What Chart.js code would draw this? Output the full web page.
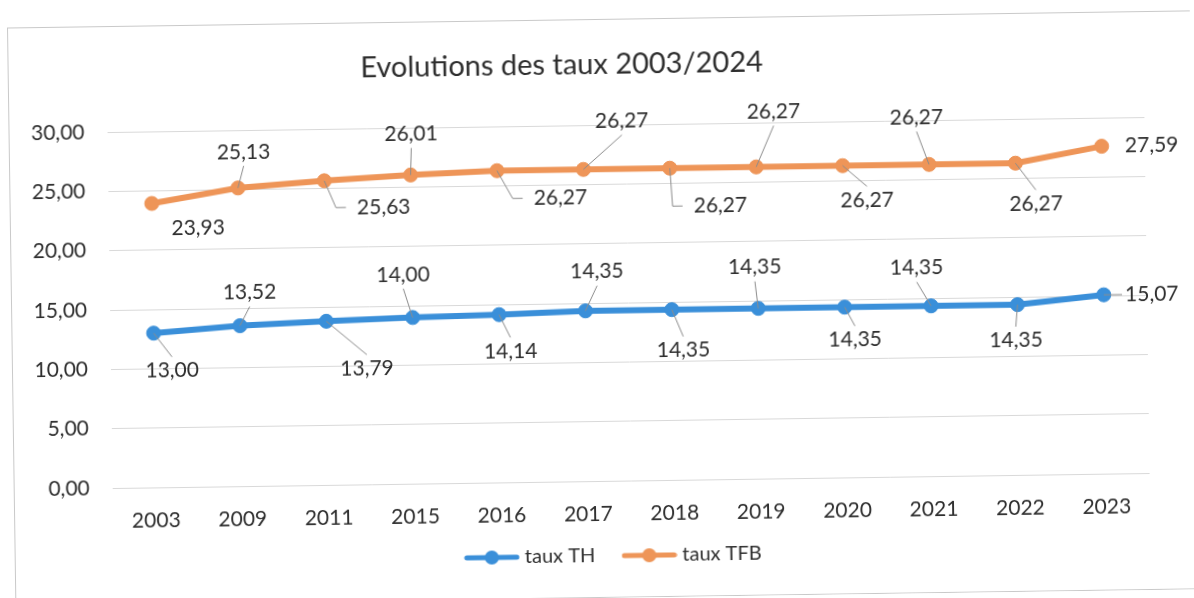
<!DOCTYPE html>
<html>
<head>
<meta charset="utf-8">
<script src="https://cdn.jsdelivr.net/npm/chart.js@4.4.1/dist/chart.umd.min.js"></script>
<style>
    html, body { margin: 0; padding: 0; background: #fff; overflow: hidden; }
    #chart { display: block; transform: rotate(-0.83deg); transform-origin: 50% 50%; }
</style>
</head>
<body>
<canvas id="chart" width="1194" height="598"></canvas>
<script>
// data
const years = ['2003', '2009', '2011', '2015', '2016', '2017', '2018', '2019', '2020', '2021', '2022', '2023'];
const tauxTH = [13.00, 13.52, 13.79, 14.00, 14.14, 14.35, 14.35, 14.35, 14.35, 14.35, 14.35, 15.07];
const tauxTFB = [23.93, 25.13, 25.63, 26.01, 26.27, 26.27, 26.27, 26.27, 26.27, 26.27, 26.27, 27.59];
const yMin = 0, yMax = 30, yStep = 5;
const chartTitle = 'Evolutions des taux 2003/2024';

const BLUE = '#3a8fd9';
const ORANGE = '#ee9558';
const TEXT = '#2e2e2e';
const FONT = 'Lato';

const fmt = v => v.toFixed(2).replace('.', ',');

// label placement [dx, dy, leader line] relative to each point
const thLabelPos = [[18, 38, 1], [10, -33, 1], [40, 48, 1], [-9, -43, 1], [11, 37, 1], [12, -39, 1],
    [11, 41, 1], [-3, -41, 1], [10, 33, 1], [-14, -38, 1], [-2, 36, 1], [48, 0, 1]];
const tfbLabelPos = [[46, 25, 0], [6, -36, 1], [59, 27, 1], [1, -41, 1], [63, 28, 1], [39, -48, 1],
    [50, 38, 1], [18, -55, 1], [24, 35, 1], [-12, -47, 1], [20, 41, 1], [50, 0, 0]];

// legend marker: line with a dot, like Excel
function legendMarker(color) {
    const c = document.createElement('canvas');
    c.width = 56; c.height = 16;
    const g = c.getContext('2d');
    g.strokeStyle = color; g.lineWidth = 5; g.lineCap = 'round';
    g.beginPath(); g.moveTo(3, 8); g.lineTo(53, 8); g.stroke();
    g.fillStyle = color;
    g.beginPath(); g.arc(28, 8, 7, 0, Math.PI * 2); g.fill();
    return c;
}

const frame = {
    id: 'frame',
    afterLayout(chart) {
        // nudge the legend to where Excel put it
        const lg = chart.legend;
        lg.left += 23; lg.right += 23;
        lg.top -= 14; lg.bottom -= 14;
    },
    beforeDraw(chart) {
        const ctx = chart.ctx;
        ctx.save();
        ctx.fillStyle = '#fff';
        ctx.fillRect(0, 0, chart.width, chart.height);
        ctx.strokeStyle = '#c9c9c9';
        ctx.lineWidth = 1;
        ctx.strokeRect(11.5, 19.5, 1200, 578);
        ctx.fillStyle = TEXT;
        ctx.font = '29px ' + FONT;
        ctx.textAlign = 'center';
        ctx.textBaseline = 'middle';
        ctx.fillText(chartTitle, 565, 65);
        ctx.restore();
    }
};

const pointLabels = {
    id: 'pointLabels',
    afterDatasetsDraw(chart, args, opts) {
        const ctx = chart.ctx;
        ctx.save();
        ctx.font = '21px ' + FONT;
        ctx.textAlign = 'center';
        ctx.textBaseline = 'middle';
        chart.data.datasets.forEach((ds, i) => {
            const meta = chart.getDatasetMeta(i);
            meta.data.forEach((pt, j) => {
                const [dx, dy, lead] = opts.positions[i][j];
                const text = fmt(ds.data[j]);
                const cx = pt.x + dx, cy = pt.y + dy;
                const left = cx - ctx.measureText(text).width / 2;
                if (lead) {
                    ctx.strokeStyle = '#8c8c8c';
                    ctx.lineWidth = 1;
                    ctx.beginPath();
                    ctx.moveTo(pt.x, pt.y);
                    if (Math.abs(dy) < 11) {
                        ctx.lineTo(left - 3, cy);
                    } else if (left - 11 > pt.x + 10) {
                        ctx.lineTo(Math.max(pt.x, left - 21), cy);
                        ctx.lineTo(left - 11, cy);
                    } else {
                        ctx.lineTo(cx, dy > 0 ? cy - 14 : cy + 14);
                    }
                    ctx.stroke();
                }
                ctx.fillStyle = TEXT;
                ctx.fillText(text, cx, cy);
            });
        });
        ctx.restore();
    }
};

new Chart(document.getElementById('chart'), {
    type: 'line',
    data: {
        labels: years,
        datasets: [{
            label: 'taux TH',
            data: tauxTH,
            borderColor: BLUE,
            backgroundColor: BLUE,
            borderWidth: 6,
            pointRadius: 7,
            pointBorderWidth: 1,
            pointStyle: 'circle',
            tension: 0
        }, {
            label: 'taux TFB',
            data: tauxTFB,
            borderColor: ORANGE,
            backgroundColor: ORANGE,
            borderWidth: 6,
            pointRadius: 7,
            pointBorderWidth: 1,
            pointStyle: 'circle',
            tension: 0
        }]
    },
    options: {
        responsive: false,
        animation: false,
        layout: { padding: { top: 125, left: 30, right: 47, bottom: 8 } },
        scales: {
            x: {
                offset: true,
                grid: { display: false, drawTicks: false },
                border: { display: false },
                ticks: { color: TEXT, font: { family: FONT, size: 21 }, padding: 21, maxRotation: 0 },
                afterFit(s) { s.height = 48; }
            },
            y: {
                min: yMin,
                max: yMax,
                grid: { color: '#d9d9d9', lineWidth: 1, drawTicks: false },
                border: { display: false },
                ticks: {
                    stepSize: yStep,
                    color: TEXT,
                    font: { family: FONT, size: 21 },
                    padding: 23,
                    callback: v => fmt(v)
                },
                afterFit(s) { s.width = 80; }
            }
        },
        plugins: {
            title: { display: false },
            tooltip: { enabled: false },
            legend: {
                position: 'bottom',
                labels: {
                    color: TEXT,
                    font: { family: FONT, size: 20 },
                    usePointStyle: true,
                    pointStyleWidth: 46,
                    padding: 31,
                    generateLabels(chart) {
                        return chart.data.datasets.map((ds, i) => ({
                            text: ds.label,
                            pointStyle: legendMarker(ds.borderColor),
                            fillStyle: ds.borderColor,
                            strokeStyle: ds.borderColor,
                            lineWidth: 0,
                            fontColor: TEXT,
                            hidden: false,
                            datasetIndex: i
                        }));
                    }
                }
            },
            pointLabels: { positions: [thLabelPos, tfbLabelPos] }
        }
    },
    plugins: [frame, pointLabels]
});
</script>
</body>
</html>
